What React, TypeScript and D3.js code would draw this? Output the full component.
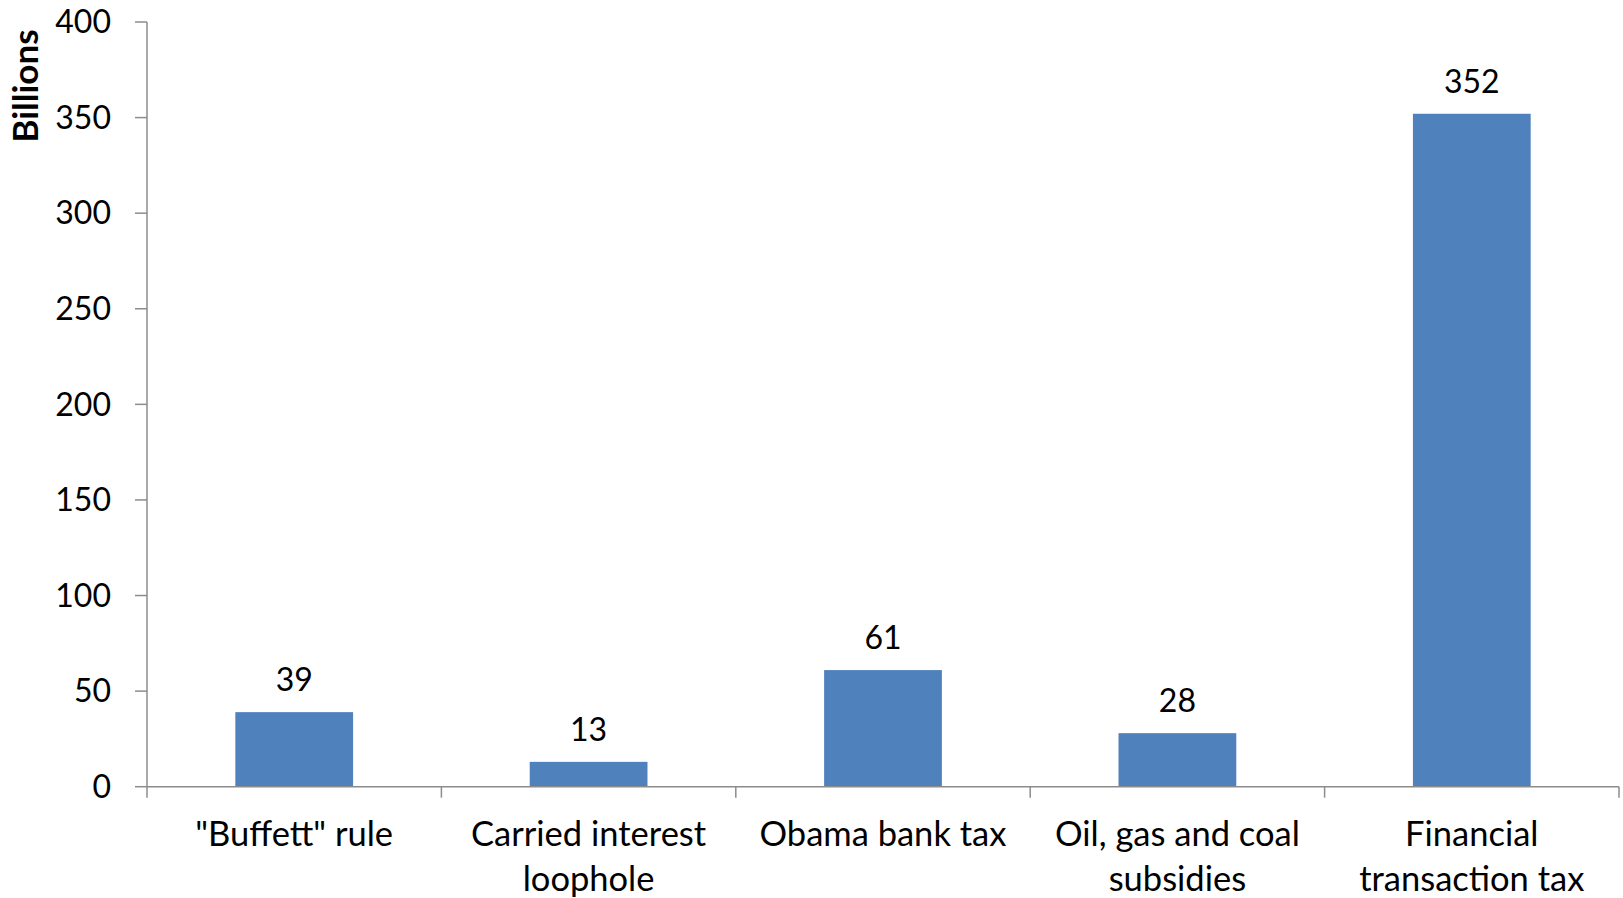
import React from "react";
import * as d3 from "d3";

const categories = [
  ['"Buffett" rule'],
  ["Carried interest", "loophole"],
  ["Obama bank tax"],
  ["Oil, gas and coal", "subsidies"],
  ["Financial", "transaction tax"],
];
const values = [39, 13, 61, 28, 352];
const yTicks = [0, 50, 100, 150, 200, 250, 300, 350, 400];

const W = 1623;
const H = 898;
const FONT = "Lato, 'Open Sans', sans-serif";
const AXIS = "#8c8c8c";

export default function App() {
  const keys = categories.map((c) => c.join(" "));
  const x = d3.scaleBand<string>().domain(keys).range([147, 1619]).paddingInner(0.6).paddingOuter(0.3);
  const y = d3.scaleLinear().domain([0, 400]).range([786.7, 22]);
  const step = x.step();
  const edges = d3.range(keys.length + 1).map((i) => 147 + i * step);

  return (
    <svg width={W} height={H} style={{ position: "absolute", left: 0, top: 0, background: "#fff" }} fontFamily={FONT}>
      <text
        transform={`translate(38,${86}) rotate(-90)`}
        textAnchor="middle"
        fontSize={35}
        fontWeight="bold"
        fill="#000"
      >
        Billions
      </text>
      {/* y axis */}
      <line x1={147} x2={147} y1={y(400)} y2={y(0)} stroke={AXIS} strokeWidth={1.5} />
      {yTicks.map((t) => (
        <g key={t}>
          <line x1={135} x2={147} y1={y(t)} y2={y(t)} stroke={AXIS} strokeWidth={1.5} />
          <text x={111} y={y(t)} dy="0.35em" textAnchor="end" fontSize={32} fill="#000">
            {t}
          </text>
        </g>
      ))}
      {/* bars */}
      {values.map((v, i) => (
        <g key={i}>
          <rect x={x(keys[i])} y={y(v)} width={x.bandwidth()} height={y(0) - y(v)} fill="#4f81bd" />
          <text
            x={(x(keys[i]) as number) + x.bandwidth() / 2}
            y={y(v) - 21}
            textAnchor="middle"
            fontSize={32}
            fill="#000"
          >
            {v}
          </text>
        </g>
      ))}
      {/* x axis */}
      <line x1={147} x2={1619} y1={y(0)} y2={y(0)} stroke={AXIS} strokeWidth={1.5} />
      {edges.map((e, i) => (
        <line key={i} x1={e} x2={e} y1={y(0)} y2={y(0) + 11} stroke={AXIS} strokeWidth={1.5} />
      ))}
      {categories.map((lines, i) => (
        <text
          key={i}
          x={(x(keys[i]) as number) + x.bandwidth() / 2}
          y={845.5}
          textAnchor="middle"
          fontSize={34.5}
          fill="#000"
        >
          {lines.map((l, j) => (
            <tspan key={j} x={(x(keys[i]) as number) + x.bandwidth() / 2} dy={j === 0 ? 0 : 45.5}>
              {l}
            </tspan>
          ))}
        </text>
      ))}
    </svg>
  );
}
